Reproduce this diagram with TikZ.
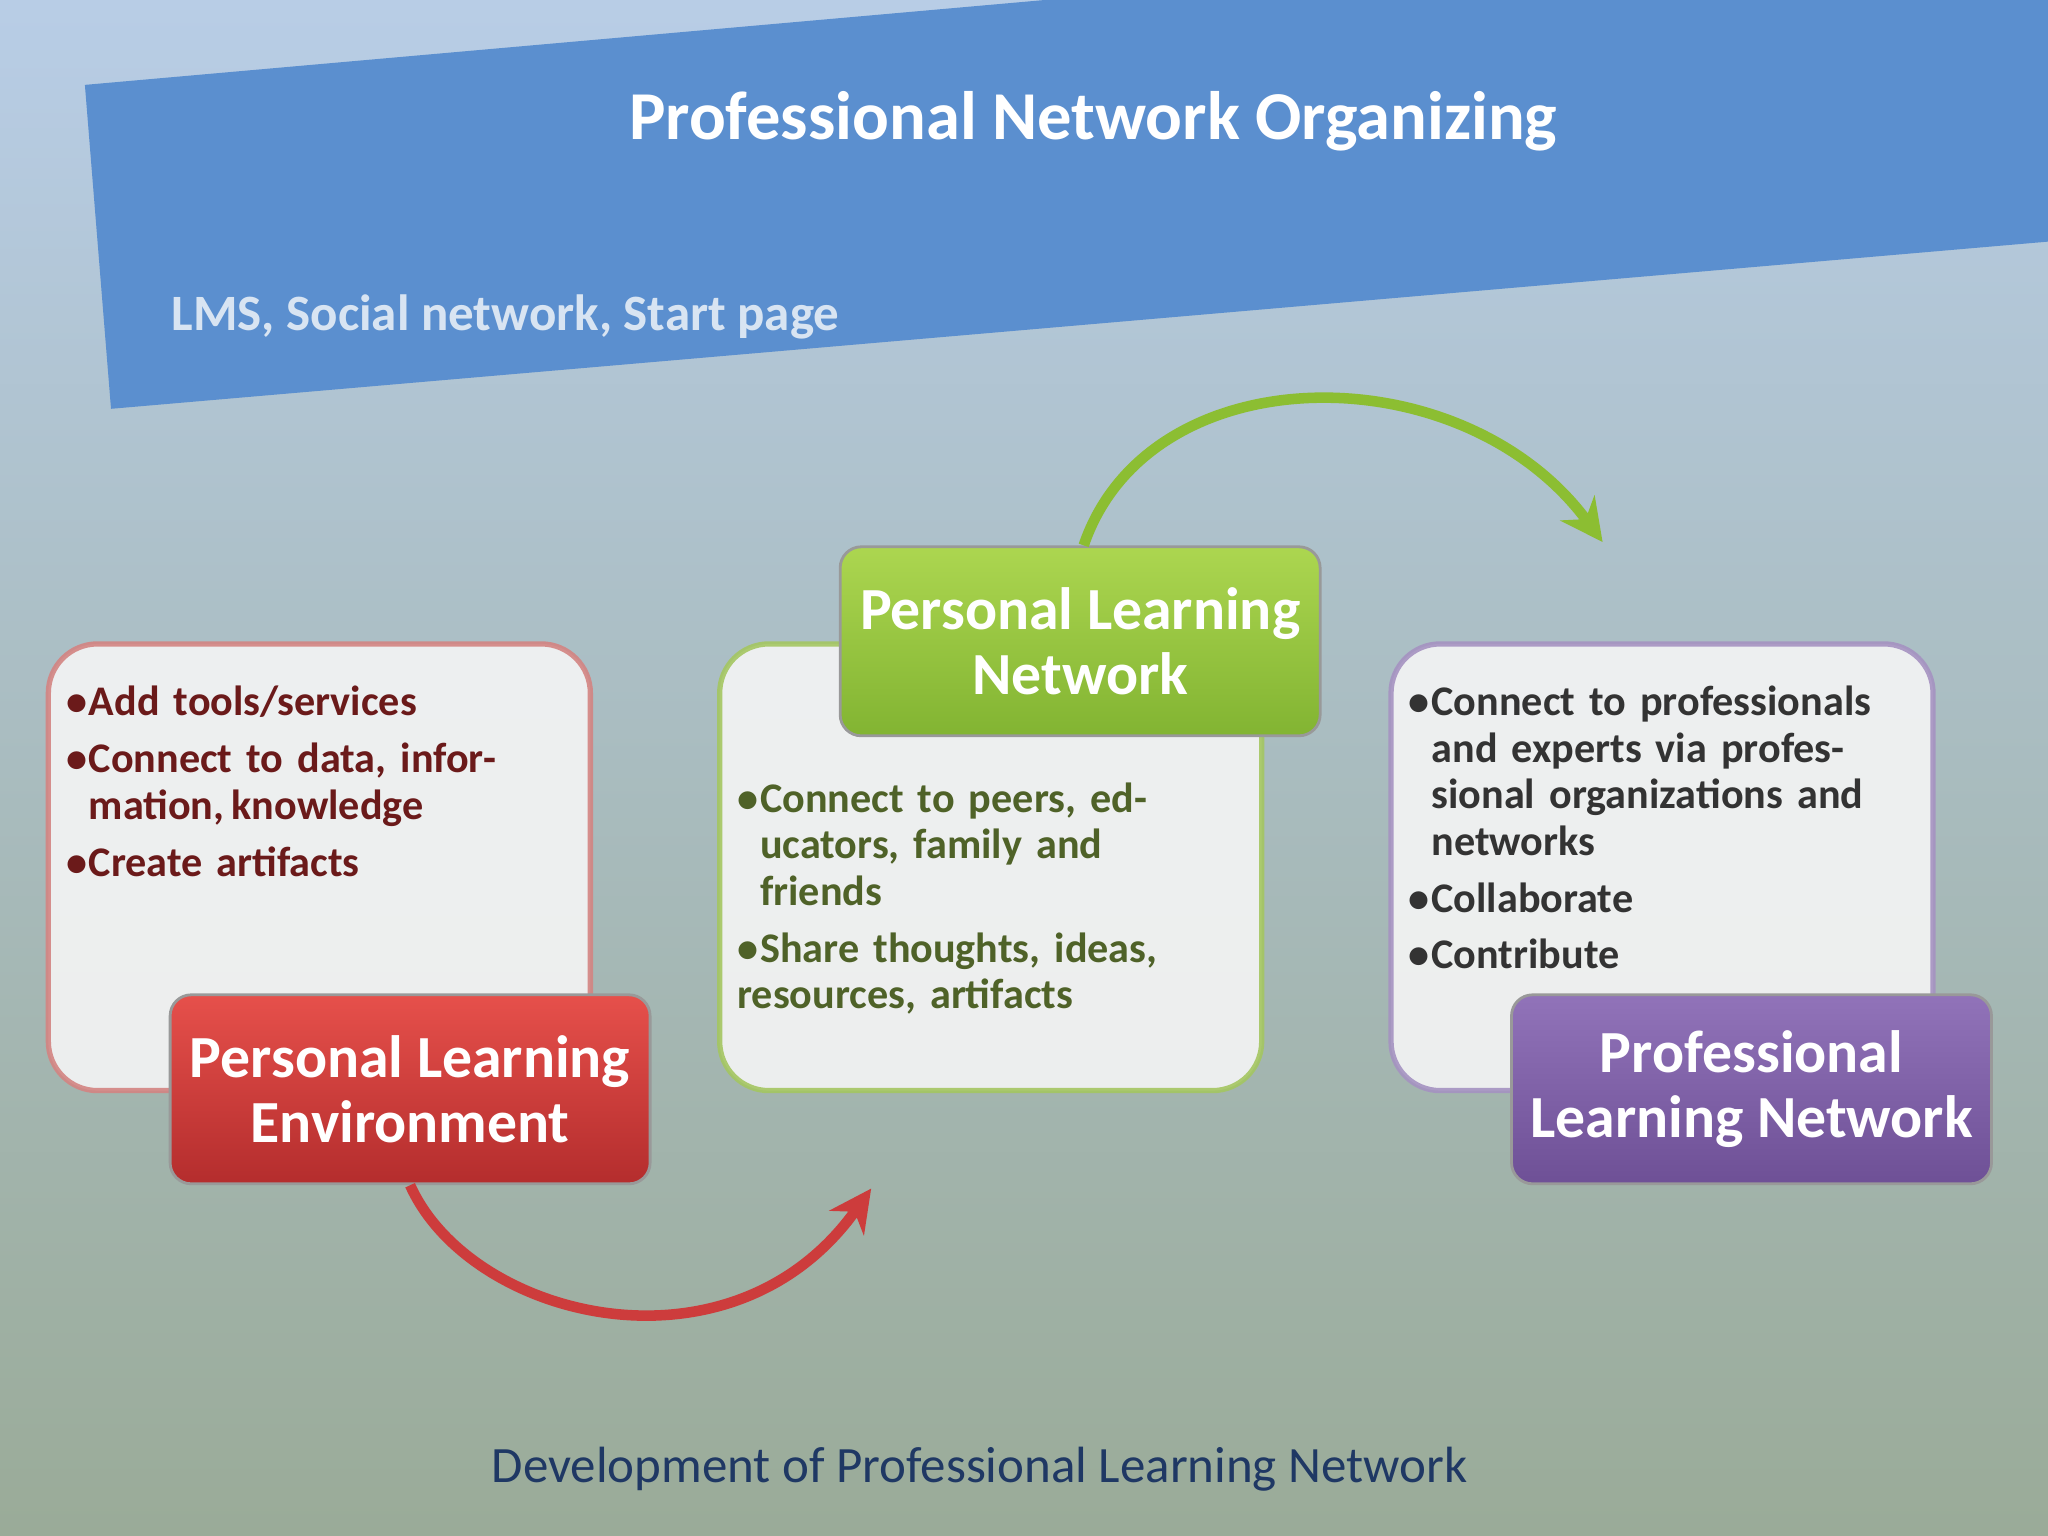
\documentclass[tikz,border=0pt]{standalone}
\usepackage{fontspec}
\setmainfont{Carlito}
\usetikzlibrary{arrows.meta}
\definecolor{banner}{HTML}{5B8FCF}
\definecolor{redd}{HTML}{C0504D}
\definecolor{grn}{HTML}{8DB83A}
\definecolor{purp}{HTML}{7E63A6}
\definecolor{redtxt}{HTML}{6B1A1A}
\definecolor{grntxt}{HTML}{4F6228}
\definecolor{graytxt}{HTML}{333333}
\definecolor{captxt}{HTML}{1F3864}
\newcommand\bitem[1]{\par\vspace{3pt}\hangindent=6.5pt\hangafter=1\noindent\makebox[6.5pt][l]{\textbullet}#1}
\tikzset{
 whitebox/.style={rounded corners=14, line width=1.5pt, fill=white!92!gray, opacity=.9},
 labelbox/.style={rounded corners=6, draw=black!40, line width=0.8pt, text=white, font=\bfseries\fontsize{17}{18.5}\selectfont, align=center, minimum width=4.8cm, minimum height=1.89cm},
 bul/.style={anchor=north west, inner sep=0pt, font=\bfseries\fontsize{12}{13.2}\selectfont, align=left},
 arr/.style={line width=3pt, -{Stealth[length=12pt,width=12pt]}}
}
\begin{document}
\begin{tikzpicture}[x=0.013061cm,y=-0.013061cm]
\useasboundingbox (0,0) rectangle (1568,1176);
\shade[top color={rgb,255:red,184;green,205;blue,230}, bottom color={rgb,255:red,154;green,171;blue,152}] (0,0) rectangle (1568,1176);
\fill[banner] (65,65) -- (800,0) -- (1568,0) -- (1568,185) -- (85,313) -- cycle;
\node[text=white, font=\bfseries\fontsize{19.5}{22}\selectfont] (title) at (837,93) {Professional Network Organizing};
\node[text={rgb,255:red,216;green,228;blue,242}, font=\bfseries\fontsize{14.5}{16}\selectfont, anchor=west] (sub) at (122,243) {LMS, Social network, Start page};
% boxes
\draw[whitebox, draw=redd!70] (37,493) rectangle (452,835);
\draw[whitebox, draw=grn!80] (551,493) rectangle (966,835);
\draw[whitebox, draw=purp!70] (1065,493) rectangle (1480,835);
\node[labelbox, top color={rgb,255:red,230;green,80;blue,75}, bottom color={rgb,255:red,180;green,45;blue,45}] (ple) at (314,834) {Personal Learning\\Environment};
\node[labelbox, top color={rgb,255:red,172;green,214;blue,80}, bottom color={rgb,255:red,130;green,180;blue,50}] (pln) at (827,491) {Personal Learning\\Network};
\node[labelbox, top color={rgb,255:red,145;green,115;blue,185}, bottom color={rgb,255:red,110;green,80;blue,150}] (prln) at (1341,834) {Professional\\Learning Network};
% texts
\node[bul, text=redtxt, text width=4.7cm] (t1) at (50,504) {\bitem{Add tools/services}\bitem{Connect to data, information,\,knowledge}\bitem{Create artifacts}};
\node[bul, text=grntxt, text width=4.3cm] (t2) at (564,578) {\bitem{Connect to peers, educators, family and friends}\bitem{Share thoughts, ideas, resources, artifacts}};
\node[bul, text=graytxt, text width=5.0cm] (t3) at (1078,504) {\bitem{Connect to professionals and experts via professional organizations and networks}\bitem{Collaborate}\bitem{Contribute}};
% arrows
\draw[arr, draw={rgb,255:red,205;green,60;blue,60}] (ple.south) .. controls (360,1010) and (560,1060) .. (667,910);
\draw[arr, draw={rgb,255:red,140;green,190;blue,50}] ([xshift=1pt]pln.north) .. controls (880,270) and (1120,270) .. (1227,415);
\node[text=captxt, font=\fontsize{14.5}{16}\selectfont] (cap) at (750,1125) {Development of Professional Learning Network};
\end{tikzpicture}
\end{document}
